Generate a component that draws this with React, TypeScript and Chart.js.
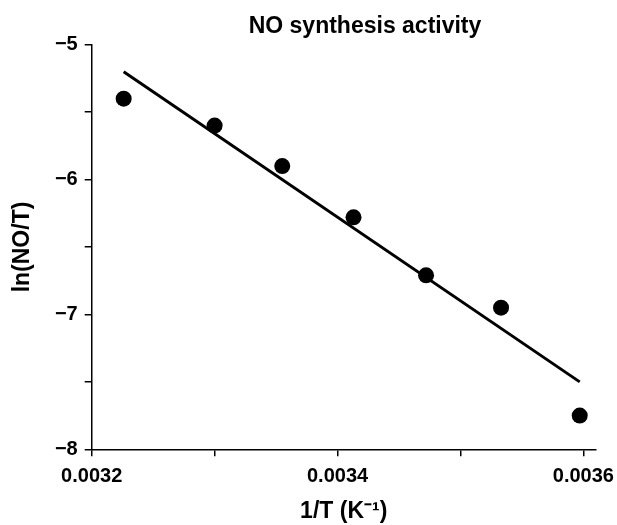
import React, { useEffect, useRef } from "react";
import { Chart, registerables } from "chart.js";

Chart.register(...registerables);

// 1/T (K^-1) and ln(NO/T) measured points
const invT = [0.003226, 0.0033, 0.003355, 0.003413, 0.003472, 0.003533, 0.003597];
const lnNOT = [-5.4, -5.6, -5.9, -6.28, -6.71, -6.95, -7.75];

// regression line endpoints
const fitX = [0.003226, 0.003597];
const fitY = [-5.2, -7.5];

// ticks (major labelled, minor unlabelled)
const xTicks = [0.0032, 0.0033, 0.0034, 0.0035, 0.0036];
const xTickLabels = ["0.0032", "", "0.0034", "", "0.0036"];
const yTicks = [-8, -7.5, -7, -6.5, -6, -5.5, -5];
const yTickLabels = ["\u22128", "", "\u22127", "", "\u22126", "", "\u22125"];

const titleText = "NO synthesis activity";
const xTitle = "1/T (K\u207B\u00B9)";
const yTitle = "ln(NO/T)";

const FONT = "'Liberation Sans', Arial, Helvetica, sans-serif";

export default function App() {
  const ref = useRef<HTMLCanvasElement | null>(null);

  useEffect(() => {
    if (!ref.current) return;
    const titlePlugin = {
      id: "customTitle",
      afterDraw(chart: any) {
        const ctx = chart.ctx;
        ctx.save();
        ctx.font = `bold 23px ${FONT}`;
        ctx.fillStyle = "#000";
        ctx.textAlign = "center";
        ctx.textBaseline = "alphabetic";
        ctx.fillText(titleText, 365, 33);
        ctx.restore();
      },
    };
    const chart = new Chart(ref.current, {
      type: "scatter",
      data: {
        datasets: [
          {
            label: "fit",
            data: fitX.map((x, i) => ({ x, y: fitY[i] })),
            showLine: true,
            borderColor: "#000",
            borderWidth: 3,
            pointRadius: 0,
            fill: false,
          },
          {
            label: "data",
            data: invT.map((x, i) => ({ x, y: lnNOT[i] })),
            backgroundColor: "#000",
            borderWidth: 0,
            pointRadius: 8,
            pointHoverRadius: 8,
          },
        ],
      },
      plugins: [titlePlugin],
      options: {
        responsive: false,
        animation: false,
        layout: { padding: { top: 44.7, right: 21.3, bottom: 0, left: 0 } },
        plugins: {
          legend: { display: false },
          title: { display: false },
          tooltip: { enabled: false },
        },
        scales: {
          x: {
            type: "linear",
            min: 0.0032,
            max: 0.00361,
            afterBuildTicks: (scale: any) => {
              scale.ticks = xTicks.map((v) => ({ value: v }));
            },
            afterFit: (scale: any) => {
              scale.height = 75.7;
              scale.paddingLeft = 0;
              scale.paddingRight = 0;
            },
            ticks: {
              autoSkip: false,
              maxRotation: 0,
              padding: 8,
              color: "#000",
              font: { family: FONT, size: 20, weight: "bold" },
              callback: (_v: any, i: number) => xTickLabels[i],
            },
            grid: {
              drawOnChartArea: false,
              drawTicks: true,
              tickLength: 7,
              color: "#000",
              lineWidth: 1.5,
            },
            border: { display: true, color: "#000", width: 1.5 },
            title: {
              display: true,
              text: xTitle,
              color: "#000",
              font: { family: FONT, size: 23, weight: "bold" },
              padding: { top: 0, bottom: 0 },
            },
          },
          y: {
            type: "linear",
            min: -8,
            max: -5,
            afterBuildTicks: (scale: any) => {
              scale.ticks = yTicks.map((v) => ({ value: v }));
            },
            afterFit: (scale: any) => {
              scale.width = 91.7;
              scale.paddingTop = 0;
              scale.paddingBottom = 0;
            },
            ticks: {
              autoSkip: false,
              padding: 7,
              color: "#000",
              font: { family: FONT, size: 20, weight: "bold" },
              callback: (_v: any, i: number) => yTickLabels[i],
            },
            grid: {
              drawOnChartArea: false,
              drawTicks: true,
              tickLength: 7,
              color: "#000",
              lineWidth: 1.5,
            },
            border: { display: true, color: "#000", width: 1.5 },
            title: {
              display: true,
              text: yTitle,
              color: "#000",
              font: { family: FONT, size: 23, weight: "bold" },
              padding: { top: 9, bottom: 0 },
            },
          },
        },
      },
    } as any);
    return () => chart.destroy();
  }, []);

  return (
    <div style={{ position: "absolute", left: 0, top: 0, width: 617, height: 525, background: "#fff" }}>
      <canvas ref={ref} width={617} height={525} style={{ display: "block" }} />
    </div>
  );
}
